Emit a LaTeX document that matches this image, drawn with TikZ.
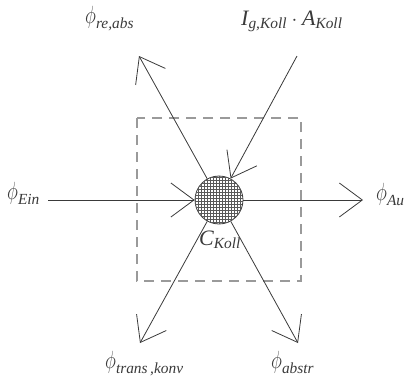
\documentclass[tikz,border=0pt]{standalone}
\usepackage{amsmath}
\usepackage{graphicx}
\usepackage{fontspec}
\setmainfont{Liberation Serif}
\usetikzlibrary{arrows.meta,patterns}
\definecolor{ink}{HTML}{3A3A3A}
\definecolor{boxgray}{HTML}{9A9A9A}
\newcommand{\fphi}{\text{\scalebox{0.9}[1.2]{$\phi$}}}
\tikzset{
  flow/.style={draw=ink, line width=0.8pt, -{Straight Barb[length=23pt,width=34pt]}},
  lbl/.style={inner sep=0pt, anchor=base west, text=ink, font=\fontsize{22}{26}\selectfont},
  sysbox/.style={draw=boxgray, line width=1.1pt, dash pattern=on 10pt off 7pt},
  store/.style={circle, minimum size=48pt, inner sep=0pt, draw=ink, line width=0.8pt,
    fill=white, postaction={pattern=grid, pattern color=gray!70!black}}
}
\begin{document}
\begin{tikzpicture}[x=1pt,y=-1pt]
\useasboundingbox (0,0) rectangle (404,381);
\draw[sysbox] (137,118) rectangle (301,281);
\node[store] (c) at (219,200) {};
\coordinate (ein) at (48,200);
\coordinate (aus) at (363,200);
\coordinate (ul) at (139,56);
\coordinate (tr) at (297,56);
\coordinate (bl) at (140,343);
\coordinate (br) at (298,343);
\draw[flow] (ein) -- (c);
\draw[flow] (c) -- (aus);
\draw[flow] (c) -- (ul);
\draw[flow] (tr) -- (c);
\draw[flow] (c) -- (bl);
\draw[flow] (c) -- (br);
\node[lbl] (lein) at (7,199) {$\fphi_{\textit{Ein}}$};
\node[lbl] (laus) at (376,200) {$\fphi_{\textit{Aus}}$};
\node[lbl] (lre) at (85,23) {$\fphi_{\textit{re,abs}}$};
\node[lbl] (lig) at (241,25) {$\textit{I}_{\textit{g,Koll}}\cdot\textit{A}_{\textit{Koll}}$};
\node[lbl] (ltr) at (105,368) {$\fphi_{\textit{trans\,,konv}}$};
\node[lbl] (lab) at (271,368) {$\fphi_{\textit{abstr}}$};
\node[lbl] (lck) at (199,245) {$\textit{C}_{\textit{Koll}}$};
\end{tikzpicture}
\end{document}
